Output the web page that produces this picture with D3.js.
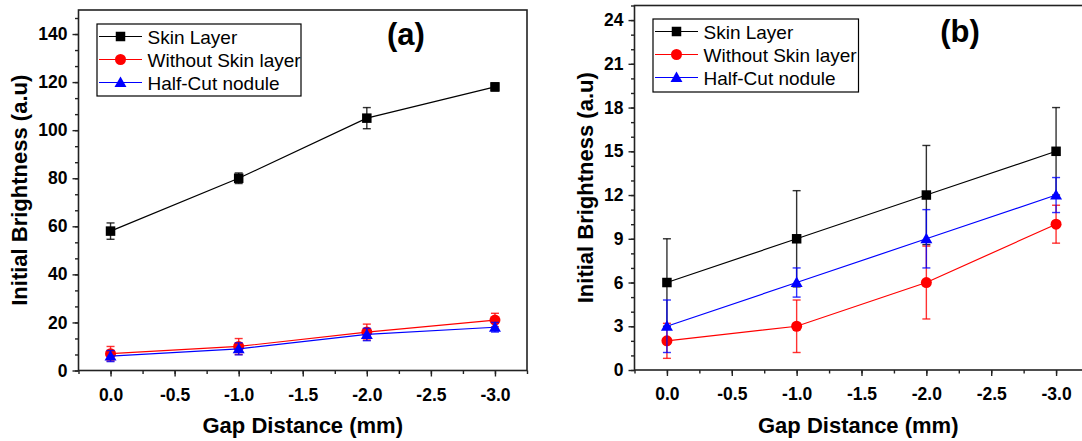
<!DOCTYPE html>
<html>
<head>
<meta charset="utf-8">
<script src="https://cdn.jsdelivr.net/npm/d3@7"></script>
<style>
  body { margin: 0; background: #fff; }
  text { font-family: Arial, "Liberation Sans", sans-serif; }
</style>
</head>
<body>
<div id="chart"></div>
<script>
// data
var gapValues = [0, -1, -2, -3];
var seriesNames = ["Skin Layer", "Without Skin layer", "Half-Cut nodule"];

var skinA = [58, 80, 105, 118];
var skinAErr = [3.4, 2.2, 4.4, 1.7];
var noSkinA = [7, 10, 16, 21];
var noSkinAErr = [3, 3.3, 3.3, 2.8];
var halfCutA = [6, 9, 15, 18];
var halfCutAErr = [2.3, 2.5, 2.6, 2];

var skinB = [6, 9, 12, 15];
var skinBErr = [3, 3.3, 3.4, 3];
var noSkinB = [2, 3, 6, 10];
var noSkinBErr = [1.2, 1.8, 2.5, 1.3];
var halfCutB = [3, 6, 9, 12];
var halfCutBErr = [1.8, 1, 2, 1.2];

var xTicksMajor = [0, -0.5, -1, -1.5, -2, -2.5, -3];
var yTicksA = [0, 20, 40, 60, 80, 100, 120, 140];
var yTicksB = [0, 3, 6, 9, 12, 15, 18, 21, 24];

var colors = ["#000000", "#ff0000", "#0000ff"];
var shapes = ["square", "circle", "triangle"];

var svg = d3.select("#chart").append("svg")
	.attr("width", 1082)
	.attr("height", 441)
	.style("background", "#fff");

function drawMarker(g, shape, x, y, color) {
	if (shape == "square") {
		g.append("rect").attr("x", x - 4.75).attr("y", y - 4.75).attr("width", 9.5).attr("height", 9.5).attr("fill", color);
	} else if (shape == "circle") {
		g.append("circle").attr("cx", x).attr("cy", y).attr("r", 5.5).attr("fill", color);
	} else {
		g.append("path").attr("d", d3.symbol(d3.symbolTriangle, 62)()).attr("transform", "translate(" + x + "," + (y + 1) + ")").attr("fill", color);
	}
}

function drawPanel(p) {
	var x = d3.scaleLinear().domain([0.25, -3.25]).range([p.left, p.right]);
	var y = d3.scaleLinear().domain(p.yDomain).range([p.bottom, p.top]);
	var g = svg.append("g");

	// minor ticks
	var xMinor = d3.range(0.25, -3.26, -0.25);
	g.append("g").attr("transform", "translate(0," + p.bottom + ")")
		.call(d3.axisBottom(x).tickValues(xMinor).tickSize(3.5).tickFormat(""))
		.call(a => a.select(".domain").remove());
	var yMinor = d3.range(0, p.yDomain[1] + 0.001, p.yMinorStep);
	g.append("g").attr("transform", "translate(" + p.left + ",0)")
		.call(d3.axisLeft(y).tickValues(yMinor).tickSize(3.5).tickFormat(""))
		.call(a => a.select(".domain").remove());

	// major ticks
	var xAxis = g.append("g").attr("transform", "translate(0," + p.bottom + ")")
		.call(d3.axisBottom(x).tickValues(xTicksMajor).tickSize(6).tickPadding(12)
			.tickFormat(d => d.toFixed(1)));
	var yAxis = g.append("g").attr("transform", "translate(" + p.left + ",0)")
		.call(d3.axisLeft(y).tickValues(p.yTicks).tickSize(6).tickPadding(5));
	[xAxis, yAxis].forEach(function (a) {
		a.select(".domain").remove();
		a.selectAll("text").attr("font-size", 17.5).attr("font-weight", "bold").attr("fill", "#000")
			.attr("font-family", "Arial, 'Liberation Sans', sans-serif");
	});
	g.selectAll(".tick line").attr("stroke", "#222").attr("stroke-width", 1.4);

	// frame
	g.append("rect").attr("x", p.left).attr("y", p.top)
		.attr("width", p.right - p.left).attr("height", p.bottom - p.top)
		.attr("fill", "none").attr("stroke", "#222").attr("stroke-width", 1.6);

	// series
	p.series.forEach(function (s, i) {
		var sg = g.append("g");
		s.values.forEach(function (v, j) {
			var cx = x(gapValues[j]);
			var y0 = y(v - s.err[j]), y1 = y(v + s.err[j]);
			sg.append("line").attr("x1", cx).attr("x2", cx).attr("y1", y0).attr("y2", y1)
				.attr("stroke", colors[i]).attr("stroke-width", 1.4).attr("opacity", 0.8);
			[y0, y1].forEach(function (yy) {
				sg.append("line").attr("x1", cx - 4).attr("x2", cx + 4).attr("y1", yy).attr("y2", yy)
					.attr("stroke", colors[i]).attr("stroke-width", 1.4).attr("opacity", 0.8);
			});
		});
		var line = d3.line().x((d, j) => x(gapValues[j])).y(d => y(d));
		sg.append("path").attr("d", line(s.values)).attr("fill", "none")
			.attr("stroke", colors[i]).attr("stroke-width", 1.2);
		s.values.forEach(function (v, j) {
			drawMarker(sg, shapes[i], x(gapValues[j]), y(v), colors[i]);
		});
	});

	// legend
	var lg = g.append("g");
	lg.append("rect").attr("x", p.legend.x).attr("y", p.legend.y)
		.attr("width", p.legend.w).attr("height", p.legend.h)
		.attr("fill", "#fff").attr("stroke", "#000").attr("stroke-width", 1.2);
	seriesNames.forEach(function (name, i) {
		var ry = p.legend.y + 12.5 + i * 23;
		var lx = p.legend.x + 2;
		lg.append("line").attr("x1", lx).attr("x2", lx + 43).attr("y1", ry).attr("y2", ry)
			.attr("stroke", colors[i]).attr("stroke-width", 1.2);
		drawMarker(lg, shapes[i], lx + 21.5, ry, colors[i]);
		lg.append("text").attr("x", lx + 48.5).attr("y", ry + 7)
			.attr("font-size", 19).attr("fill", "#000").text(name);
	});

	// panel label
	g.append("text").attr("x", p.labelX).attr("y", p.labelY).attr("text-anchor", "middle")
		.attr("font-size", 31).attr("font-weight", "bold").text(p.label);

	// axis titles
	g.append("text").attr("x", (p.left + Math.min(p.right, 1082)) / 2 + p.xTitleShift).attr("y", 433)
		.attr("text-anchor", "middle").attr("font-size", 22).attr("font-weight", "bold")
		.text("Gap Distance (mm)");
	g.append("text").attr("transform", "translate(" + p.yTitleX + "," + ((p.top + p.bottom) / 2) + ") rotate(-90)")
		.attr("text-anchor", "middle").attr("font-size", 22).attr("font-weight", "bold")
		.text("Initial Brightness (a.u)");
}

drawPanel({
	left: 78.5, right: 527, top: 10, bottom: 370.5,
	yDomain: [0, 150], yTicks: yTicksA, yMinorStep: 20 / 3,
	series: [
		{ values: skinA, err: skinAErr },
		{ values: noSkinA, err: noSkinAErr },
		{ values: halfCutA, err: halfCutAErr }
	],
	legend: { x: 97, y: 24, w: 204, h: 72 },
	label: "(a)", labelX: 406, labelY: 45,
	xTitleShift: 0, yTitleX: 27
});

drawPanel({
	left: 634.5, right: 1088.5, top: 5.5, bottom: 370,
	yDomain: [0, 25], yTicks: yTicksB, yMinorStep: 1,
	series: [
		{ values: skinB, err: skinBErr },
		{ values: noSkinB, err: noSkinBErr },
		{ values: halfCutB, err: halfCutBErr }
	],
	legend: { x: 653, y: 19, w: 205.5, h: 73 },
	label: "(b)", labelX: 960, labelY: 42,
	xTitleShift: 0, yTitleX: 593
});
</script>
</body>
</html>
